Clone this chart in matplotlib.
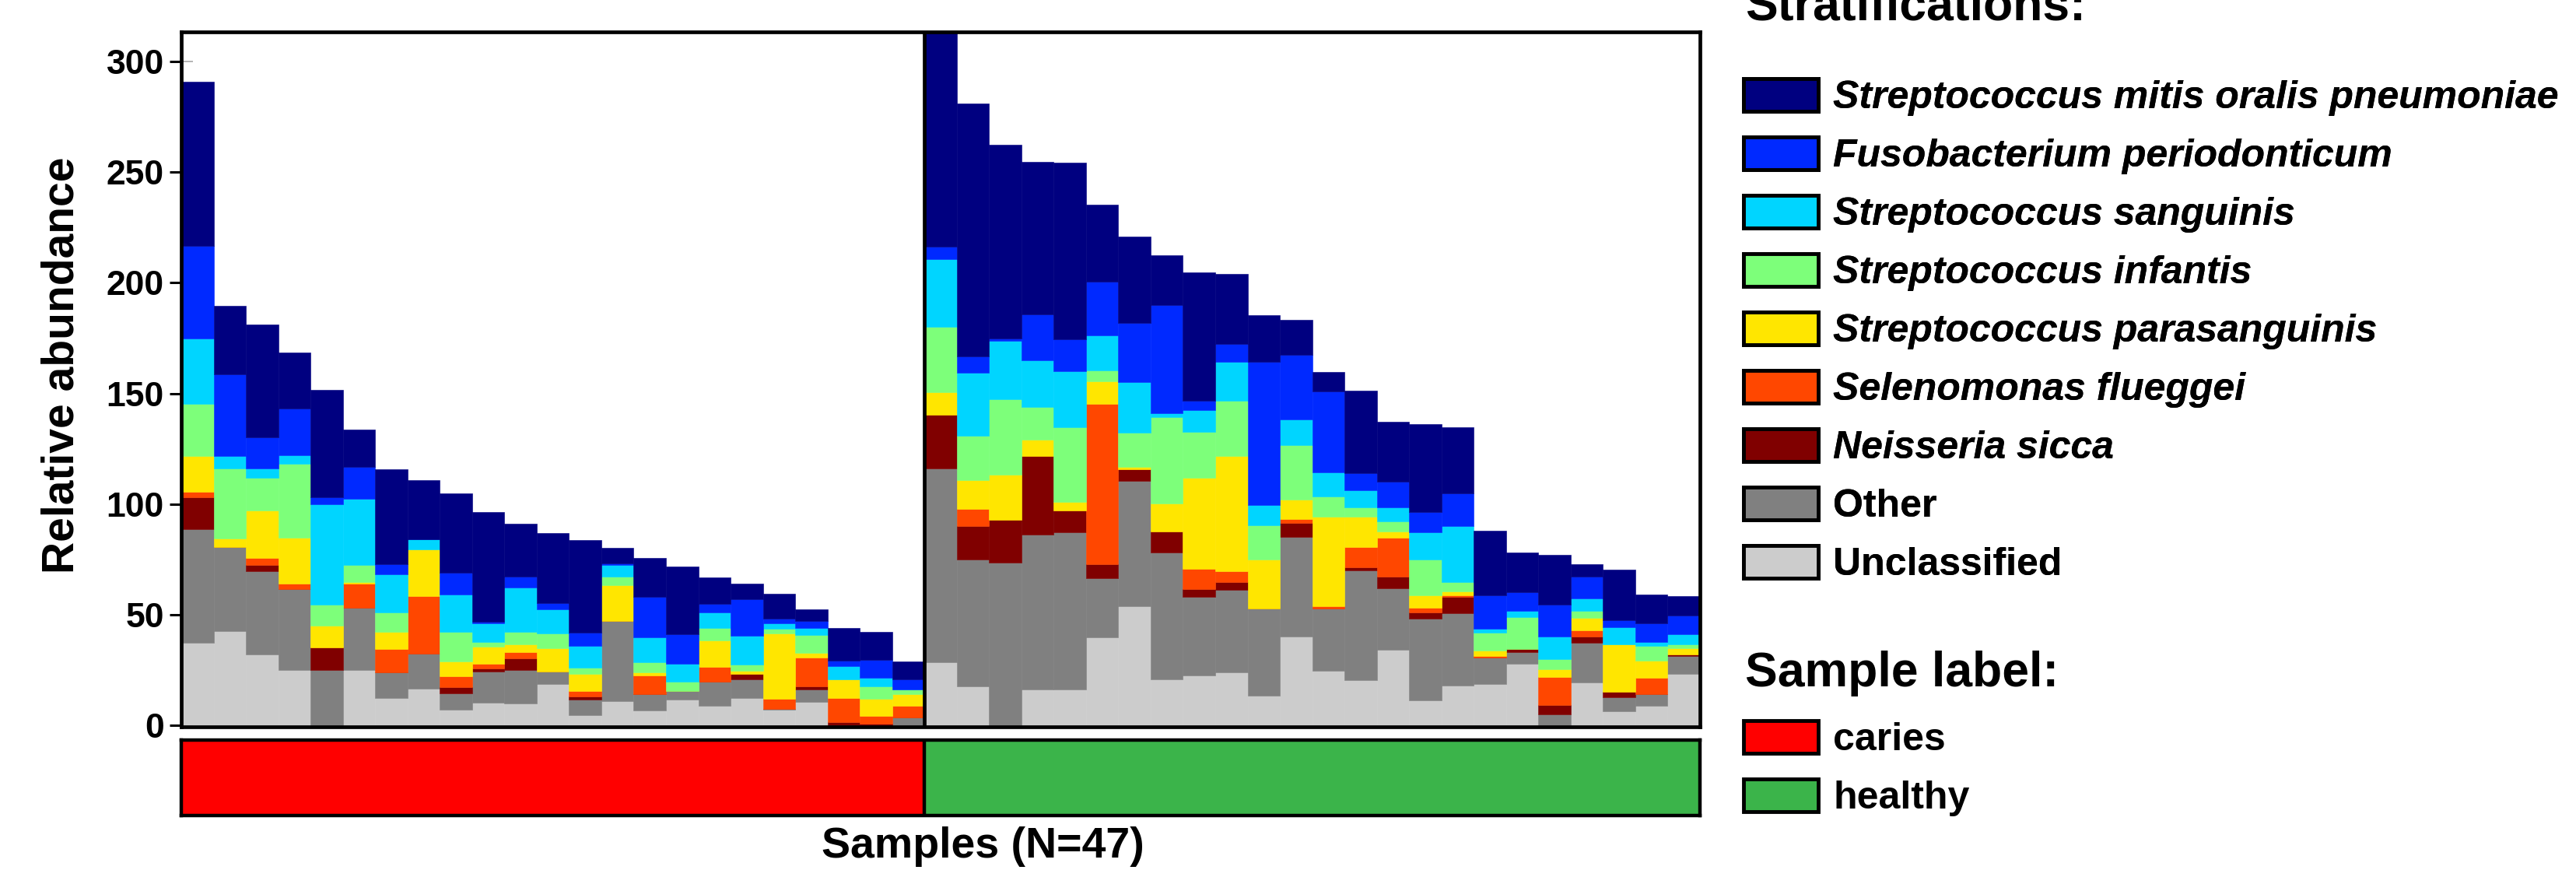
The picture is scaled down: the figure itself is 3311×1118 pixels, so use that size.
import numpy as np
import matplotlib
matplotlib.use("Agg")
import matplotlib.pyplot as plt
from matplotlib.patches import Patch
from matplotlib.colors import ListedColormap
from matplotlib.font_manager import FontProperties

# ---------------- data ----------------
species = ["Streptococcus mitis oralis pneumoniae", "Fusobacterium periodonticum",
           "Streptococcus sanguinis", "Streptococcus infantis",
           "Streptococcus parasanguinis", "Selenomonas flueggei",
           "Neisseria sicca", "Other", "Unclassified"]

sample_labels = ["caries"] * 23 + ["healthy"] * 24
label_names = ["caries", "healthy"]

unclassified = [37.2, 42.4, 32.1, 25.0, 0, 25.0, 12.1, 16.4, 7.0, 10.0, 9.7, 18.5, 4.4, 10.8,
                6.7, 11.5, 8.8, 12.2, 6.9, 10.5, 0, 0, 0,
                28.3, 17.4, 0, 16.2, 16.0, 39.6, 53.6, 20.5, 22.6, 23.9, 13.3, 40.1,
                24.4, 20.4, 34.1, 11.3, 17.7, 18.7, 27.8, 0, 19.3, 6.2, 8.6, 23.2]
other = [51.5, 38.2, 37.6, 36.6, 25.0, 27.9, 11.9, 15.9, 7.3, 14.1, 15.1, 5.8, 7.0, 36.4,
         7.4, 3.9, 10.8, 8.5, 0.3, 5.6, 0, 0, 3.4,
         87.6, 57.3, 73.5, 70.0, 71.2, 26.7, 56.9, 57.7, 35.4, 37.2, 39.4, 45.1,
         28.4, 49.7, 27.8, 36.9, 33.0, 11.7, 5.3, 5.0, 17.8, 6.2, 5.3, 7.9]
neisseria = [14.3, 0, 2.8, 0, 10.1, 0, 0, 0, 2.8, 1.4, 5.3, 0, 1.4, 0,
             0, 0, 0, 2.3, 0, 1.5, 1.4, 0.5, 0,
             24.6, 15.4, 19.2, 35.4, 9.7, 6.5, 5.3, 9.2, 3.4, 3.7, 0, 6.3,
             0, 1.3, 5.1, 2.7, 7.2, 0, 1.3, 4.2, 2.8, 2.5, 0, 0.7]
selenomonas = [2.4, 0, 3.0, 2.2, 0, 10.9, 10.3, 26.0, 5.0, 2.2, 2.8, 0, 2.5, 0,
               8.4, 0, 6.8, 0, 4.6, 13.1, 10.8, 3.5, 5.4,
               0, 7.8, 0, 0, 0, 72.3, 0, 0, 9.3, 4.7, 0, 1.5,
               0.9, 9.1, 17.7, 2.2, 0.8, 1.0, 0, 12.6, 3.0, 0, 7.4, 0]
parasanguinis = [16.2, 3.6, 21.4, 21.0, 9.7, 0.8, 7.7, 21.3, 6.6, 7.8, 3.6, 10.6, 7.8, 15.9,
                 1.4, 0, 11.9, 1.5, 29.6, 2.0, 8.4, 8.0, 5.1,
                 10.1, 13.0, 20.4, 7.6, 4.1, 10.2, 0.8, 12.7, 41.2, 52.1, 22.0, 9.0,
                 40.6, 13.8, 2.7, 5.6, 1.9, 2.3, 0, 3.3, 5.5, 21.7, 7.9, 3.0]
infantis = [23.6, 31.7, 15.0, 33.3, 9.5, 7.9, 9.1, 0, 13.5, 2.1, 5.5, 6.5, 2.9, 4.2,
            4.5, 4.2, 5.7, 2.8, 2.3, 8.1, 0, 5.5, 2.2,
            29.5, 19.8, 34.3, 14.6, 33.7, 5.0, 15.5, 39.1, 20.6, 25.2, 15.8, 24.6,
            9.1, 4.0, 4.6, 16.1, 4.0, 8.2, 14.4, 4.8, 3.2, 0, 6.7, 1.6]
sanguinis = [29.7, 5.7, 4.0, 4.1, 45.7, 29.9, 17.2, 4.5, 16.7, 8.4, 20.1, 11.0, 9.7, 5.0,
             11.1, 8.2, 7.1, 13.2, 2.4, 3.0, 6.1, 4.0, 0,
             30.7, 28.6, 26.3, 21.2, 25.2, 16.1, 22.9, 1.7, 9.9, 17.5, 9.1, 11.5,
             10.9, 7.9, 6.4, 12.4, 25.5, 1.6, 2.8, 10.0, 5.5, 7.6, 1.5, 4.8]
fusobacterium = [41.8, 37.1, 14.1, 20.8, 3.0, 14.5, 4.6, 0, 9.9, 0.6, 4.9, 2.8, 6.1, 0.7,
                 18.4, 13.4, 3.6, 16.3, 2.1, 3.4, 2.5, 8.0, 4.7,
                 5.7, 7.5, 1.0, 20.8, 14.6, 24.0, 27.0, 49.0, 4.1, 8.1, 64.5, 29.4,
                 36.7, 7.6, 11.8, 9.2, 14.7, 15.2, 8.5, 14.6, 10.2, 3.1, 8.5, 8.4]
mitis = [74.1, 30.9, 51.1, 25.6, 48.5, 16.8, 42.8, 26.5, 36.1, 49.7, 24.2, 31.6, 41.8, 7.2,
         17.5, 30.6, 12.2, 7.1, 11.3, 5.2, 14.6, 12.7, 8.0,
         102.0, 114.3, 87.8, 69.0, 79.9, 34.9, 38.9, 22.6, 58.2, 31.7, 21.4, 15.8,
         8.8, 37.6, 26.8, 39.8, 29.9, 29.2, 18.0, 22.4, 5.6, 23.0, 13.0, 8.9]

yticks = [0, 50, 100, 150, 200, 250, 300]

# ---------------- style ----------------
jet = plt.cm.jet(np.linspace(0, 1, 7))
species_colors = list(jet) + ["#808080", "#cccccc"]
label_colors = {"caries": "#ff0000", "healthy": "#3bb44a"}
FONT = "Liberation Sans"

W, H = 3311, 1118
def fx(px):
    return px / W
def fy(py):
    return 1 - py / H

fig = plt.figure(figsize=(W / 100, H / 100), dpi=100)

AX_L, AX_R, AX_T, AX_B = 233, 2185, 41, 934
ax = fig.add_axes([fx(AX_L), fy(AX_B), (AX_R - AX_L) / W, (AX_B - AX_T) / H])

series = [mitis, fusobacterium, sanguinis, infantis, parasanguinis,
          selenomonas, neisseria, other, unclassified]
n = len(sample_labels)
x = np.arange(n)
bottom = np.zeros(n)
# draw from bottom (Unclassified) up to top (S. mitis)
for vals, col in zip(series[::-1], species_colors[::-1]):
    v = np.array(vals, dtype=float)
    ax.bar(x, v, width=1.0, bottom=bottom, color=col, edgecolor=col,
           linewidth=0.4, zorder=2)
    bottom += v

n_caries = sample_labels.count("caries")
ax.axvline(n_caries - 0.5, color="black", lw=3.4, zorder=5)

ax.set_xlim(-0.5, n - 0.5)
ax.set_ylim(-0.8, 313.5)
ax.set_xticks([])
ax.set_yticks(yticks)
ax.set_yticks(yticks, minor=True)
ax.yaxis.remove_overlapping_locs = False
ax.tick_params(axis="y", which="major", direction="out", length=11, width=2.2,
               pad=5, labelsize=32)
ax.tick_params(axis="y", which="minor", direction="in", length=11, width=1.4,
               color=(0.35, 0.35, 0.35, 0.45))
for lab in ax.get_yticklabels():
    lab.set_fontfamily(FONT)
    lab.set_fontweight("bold")
for s in ax.spines.values():
    s.set_linewidth(3.4)
    s.set_zorder(6)

ax.set_ylabel("Relative abundance", fontsize=41, fontweight="bold", family=FONT)
ax.yaxis.set_label_coords((107 - AX_L) / (AX_R - AX_L), (AX_B - 469) / (AX_B - AX_T))

# ---------------- sample label strip ----------------
ax2 = fig.add_axes([fx(AX_L), fy(1048), (AX_R - AX_L) / W, (1048 - 951) / H])
label_idx = np.array([[label_names.index(l) for l in sample_labels]])
ax2.imshow(label_idx, cmap=ListedColormap([label_colors[l] for l in label_names]),
           vmin=0, vmax=len(label_names) - 1, aspect="auto",
           extent=(-0.5, n - 0.5, 0, 1), interpolation="nearest")
ax2.axvline(n_caries - 0.5, color="black", lw=3.2)
ax2.set_xlim(-0.5, n - 0.5)
ax2.set_ylim(0, 1)
ax2.set_xticks([])
ax2.set_yticks([])
for s in ax2.spines.values():
    s.set_linewidth(3.2)

fig.text(fx(1263), fy(1088), "Samples (N=47)", ha="center", va="center",
         fontsize=40, fontweight="bold", family=FONT)

# ---------------- legends ----------------
def make_legend(names, colors, top_px, italic_flags):
    handles = [Patch(facecolor=c, edgecolor="black", linewidth=3.5, label=nm)
               for nm, c in zip(names, colors)]
    leg = fig.legend(handles=handles, loc="upper left",
                     bbox_to_anchor=(fx(2241), fy(top_px)), frameon=False,
                     prop=FontProperties(family=FONT, weight="bold", size=36),
                     handlelength=1.92, handleheight=0.9, handletextpad=0.38,
                     labelspacing=0.54, borderpad=0, borderaxespad=0)
    for t, it in zip(leg.get_texts(), italic_flags):
        if it:
            t.set_fontstyle("italic")
    return leg

leg1 = make_legend(species, species_colors, 101, [True] * 7 + [False, False])
leg2 = make_legend(label_names, [label_colors[l] for l in label_names], 926,
                   [False, False])
fig.add_artist(leg1)

fig.text(fx(2243), fy(26), "Stratifications:", ha="left", va="baseline",
         fontsize=45, fontweight="bold", family=FONT)
fig.text(fx(2243), fy(882), "Sample label:", ha="left", va="baseline",
         fontsize=45, fontweight="bold", family=FONT)

fig.savefig("out.png", dpi=100)
